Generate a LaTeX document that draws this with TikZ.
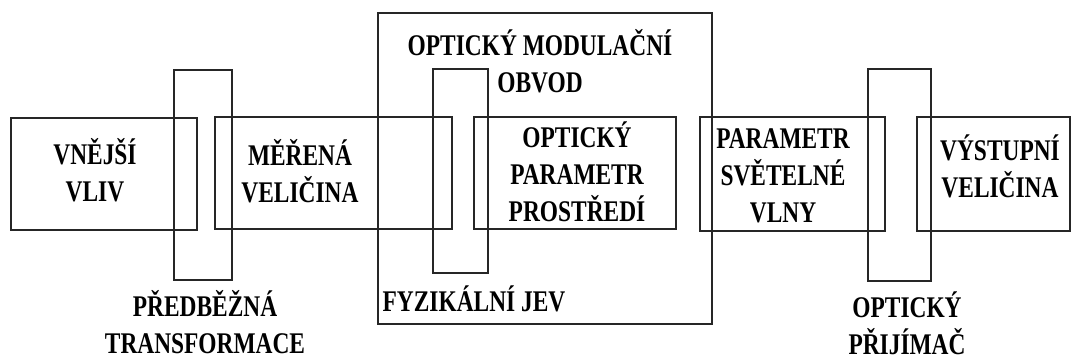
\documentclass[tikz,border=0pt]{standalone}
\usepackage{fontspec}
\newfontfamily\popisfont{Liberation Serif}[FakeStretch=0.78]
\usetikzlibrary{positioning}

\begin{document}
\begin{tikzpicture}[x=1pt, y=-1pt,
        blok/.style = {draw=black!85, line width=1.3pt, inner sep=0pt},
        popis/.style = {font=\popisfont\bfseries\fontsize{30}{37}\selectfont, align=center, anchor=base, inner sep=0pt, text depth=0pt}]
        \useasboundingbox (0,0) rectangle (1071,360);
        % bloky
        \node[blok, minimum width=186, minimum height=112] (vliv) at (104,174) {};
        \node[blok, minimum width=58, minimum height=210] (transf) at (203,175) {};
        \node[blok, minimum width=237, minimum height=112] (merena) at (333.5,173) {};
        \node[blok, minimum width=334, minimum height=311] (obvod) at (545,168.5) {};
        \node[blok, minimum width=55, minimum height=204] (jev) at (460.5,171) {};
        \node[blok, minimum width=202, minimum height=112] (prostredi) at (575,173) {};
        \node[blok, minimum width=185, minimum height=114] (vlna) at (792.5,174) {};
        \node[blok, minimum width=63, minimum height=212] (prijimac) at (899.5,175) {};
        \node[blok, minimum width=153, minimum height=114] (vystup) at (993.5,174) {};
        % popisky
        \node[popis] (tvliv) at (95,201) {VNĚJŠÍ\\VLIV};
        \node[popis] (tmerena) at (300,202) {MĚŘENÁ\\VELIČINA};
        \node[popis] (tobvod) at (540,92) {OPTICKÝ MODULAČNÍ\\OBVOD};
        \node[popis] (tprostredi) at (577,221) {OPTICKÝ\\PARAMETR\\PROSTŘEDÍ};
        \node[popis] (tvlna) at (783,222) {PARAMETR\\SVĚTELNÉ\\VLNY};
        \node[popis] (tvystup) at (1000,197) {VÝSTUPNÍ\\VELIČINA};
        \node[popis] (ttransf) at (205,353) {PŘEDBĚŽNÁ\\TRANSFORMACE};
        \node[popis] (tjev) at (474,311) {FYZIKÁLNÍ JEV};
        \node[popis] (tprijimac) at (907,354) {OPTICKÝ\\PŘIJÍMAČ};
\end{tikzpicture}
\end{document}
